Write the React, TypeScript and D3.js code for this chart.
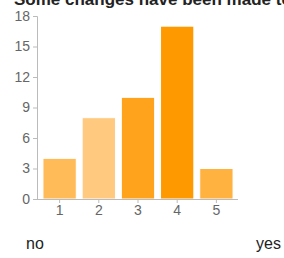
import * as d3 from 'd3';
import { useEffect, useRef } from 'react';

const TITLE = 'Some changes have been made to';
const CATEGORIES = ['1', '2', '3', '4', '5'];
const VALUES = [4, 8, 10, 17, 3];
const BAR_COLORS = ['#FFBB58', '#FFCA80', '#FFA31C', '#FF9900', '#FFB240'];
const Y_TICKS = [0, 3, 6, 9, 12, 15, 18];
const LOW_LABEL = 'no';
const HIGH_LABEL = 'yes';

const WIDTH = 284;
const HEIGHT = 258;
const MARGIN = { top: 16, right: 46, bottom: 59, left: 37 };

const App = () => {
    const svgRef = useRef<SVGSVGElement>(null);

    useEffect(() => {
        if (!svgRef.current) return;
        const innerWidth = WIDTH - MARGIN.left - MARGIN.right;
        const innerHeight = HEIGHT - MARGIN.top - MARGIN.bottom;

        const svg = d3.select(svgRef.current);
        svg.selectAll('*').remove();

        const xScale = d3.scaleBand().domain(CATEGORIES).range([4, innerWidth - 3]).paddingInner(0.15).paddingOuter(0.05);
        const yScale = d3.scaleLinear().domain([0, 18]).range([innerHeight, 0]);

        const g = svg.append('g').attr('transform', `translate(${MARGIN.left},${MARGIN.top})`);

        // bars
        g.selectAll('rect')
            .data(VALUES)
            .enter()
            .append('rect')
            .attr('x', (_d, i) => xScale(CATEGORIES[i])!)
            .attr('y', (d) => yScale(d))
            .attr('width', xScale.bandwidth())
            .attr('height', (d) => innerHeight - yScale(d))
            .attr('fill', (_d, i) => BAR_COLORS[i])
            .attr('stroke', '#fff')
            .attr('stroke-width', 1);

        // y axis
        const yAxis = g.append('g').call(d3.axisLeft(yScale).tickValues(Y_TICKS).tickSize(4).tickPadding(3));
        yAxis.select('.domain').attr('stroke', '#bbb').attr('d', `M-4,0.5H0.5V${innerHeight}`);
        yAxis.selectAll('line').attr('stroke', '#bbb');
        yAxis.selectAll('text').attr('fill', '#666').style('font-family', 'Arial, "Liberation Sans", sans-serif').style('font-size', '14px');

        // x axis
        const xAxis = g
            .append('g')
            .attr('transform', `translate(0,${innerHeight})`)
            .call(d3.axisBottom(xScale).tickSize(4).tickPadding(2));
        xAxis.select('.domain').attr('stroke', '#bbb').attr('d', `M0,0.5H${innerWidth}`);
        xAxis.selectAll('line').attr('stroke', '#bbb');
        xAxis.selectAll('text').attr('fill', '#666').style('font-family', 'Arial, "Liberation Sans", sans-serif').style('font-size', '14px');

        // title, partly above the frame as in the original
        svg.append('text')
            .attr('x', 14)
            .attr('y', 5)
            .style('font-family', 'Arial, "Liberation Sans", sans-serif')
            .style('font-size', '17px')
            .style('font-weight', 'bold')
            .attr('fill', '#222')
            .text(TITLE);

        svg.append('text')
            .attr('x', 26)
            .attr('y', 249)
            .style('font-family', 'Arial, "Liberation Sans", sans-serif')
            .style('font-size', '16px')
            .attr('fill', '#222')
            .text(LOW_LABEL);

        svg.append('text')
            .attr('x', 281)
            .attr('y', 249)
            .style('text-anchor', 'end')
            .style('font-family', 'Arial, "Liberation Sans", sans-serif')
            .style('font-size', '16px')
            .attr('fill', '#222')
            .text(HIGH_LABEL);
    }, []);

    return (
        <svg
            ref={svgRef}
            width={WIDTH}
            height={HEIGHT}
            style={{ position: 'absolute', left: 0, top: 0, background: '#fff', overflow: 'hidden' }}
        ></svg>
    );
};

export default App;
